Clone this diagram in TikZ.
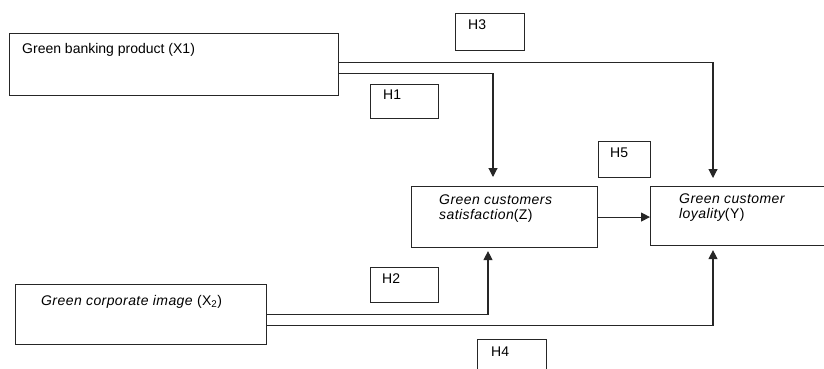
\documentclass[tikz,border=0pt]{standalone}
\usepackage{fontspec}
\setmainfont{Liberation Sans}
\newfontfamily\spacedfont[LetterSpace=3]{Liberation Sans}
\usetikzlibrary{arrows.meta,positioning}
\tikzset{
  varbox/.style={rectangle,draw=black!85,line width=1.1pt,anchor=north west,
                 inner sep=0pt},
  hypbox/.style={varbox},
  vartext/.style={anchor=base west,inner sep=0pt,align=left,
                  font=\fontsize{14}{15}\selectfont},
  hyptext/.style={anchor=base west,inner sep=0pt,
                  font=\fontsize{14}{15}\selectfont},
  arr/.style={-{Triangle[length=9pt,width=9pt]},line width=1.1pt,color=black!85}
}

\begin{document}
\begin{tikzpicture}[x=1pt,y=-1pt]
  \useasboundingbox (0,0) rectangle (824,369);
  % variable boxes
  \node[varbox,minimum width=329pt,minimum height=62pt] (x1) at (9,33) {};
  \node[varbox,minimum width=251pt,minimum height=60pt] (x2) at (15,284) {};
  \node[varbox,minimum width=186pt,minimum height=61pt] (z) at (411,186) {};
  \node[varbox,minimum width=180pt,minimum height=59pt] (y) at (650,186) {};
  % hypothesis boxes
  \node[hypbox,minimum width=69pt,minimum height=37pt] (h3) at (455,13) {};
  \node[hypbox,minimum width=68pt,minimum height=34pt] (h1) at (370,84) {};
  \node[hypbox,minimum width=52pt,minimum height=36pt] (h5) at (598,141) {};
  \node[hypbox,minimum width=68pt,minimum height=35pt] (h2) at (370,267) {};
  \node[hypbox,minimum width=69pt,minimum height=36pt] (h4) at (477,339) {};

  % texts
  \node[vartext] (x1t) at ([xshift=13pt,yshift=-20pt]x1.north west)
      {Green banking product (X1)};
  \node[vartext] (x2t) at ([xshift=26pt,yshift=-21pt]x2.north west)
      {\spacedfont\itshape Green corporate image \upshape(X\textsubscript{2})};
  \node[vartext] (zt) at ([xshift=28pt,yshift=-33pt]z.north west)
      {\spacedfont\itshape Green customers\\
       \spacedfont\itshape satisfaction\upshape(Z)};
  \node[vartext] (yt) at ([xshift=29pt,yshift=-32pt]y.north west)
      {\spacedfont\itshape Green customer\\
       \spacedfont\itshape loyality\upshape(Y)};
  \node[hyptext] (h3t) at ([xshift=13pt,yshift=-17pt]h3.north west) {H3};
  \node[hyptext] (h1t) at ([xshift=13pt,yshift=-15pt]h1.north west) {H1};
  \node[hyptext] (h5t) at ([xshift=12pt,yshift=-16pt]h5.north west) {H5};
  \node[hyptext] (h2t) at ([xshift=12pt,yshift=-16pt]h2.north west) {H2};
  \node[hyptext] (h4t) at ([xshift=14pt,yshift=-17pt]h4.north west) {H4};

  % paths
  \draw[arr] ([yshift=2pt]x1.east) -| ([xshift=63pt,yshift=8pt]y.north west);
  \draw[arr] ([yshift=-9pt]x1.east) -| ([xshift=82pt,yshift=9pt]z.north west);
  \draw[arr] (z.east) -- (y.west |- z.east);
  \draw[arr] (x2.east) -| ([xshift=77pt,yshift=-3pt]z.south west);
  \draw[arr] ([yshift=-11pt]x2.east) -| ([xshift=63pt,yshift=-4pt]y.south west);
\end{tikzpicture}
\end{document}
